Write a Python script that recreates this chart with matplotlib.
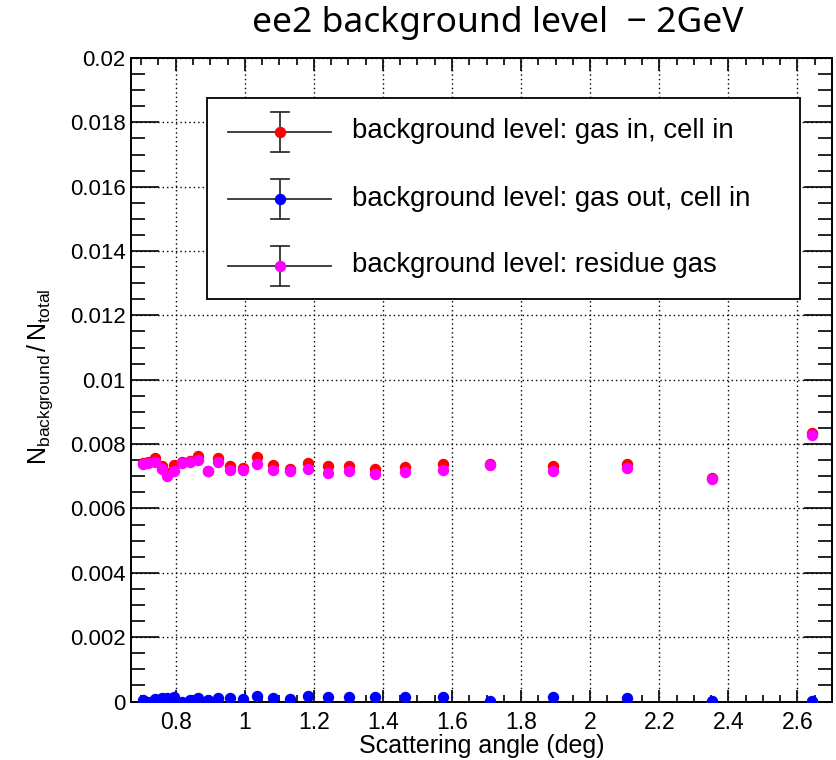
import matplotlib
matplotlib.use("Agg")
import matplotlib.pyplot as plt
from matplotlib.ticker import MultipleLocator, FuncFormatter
from matplotlib.patches import Rectangle
from matplotlib.lines import Line2D

# ---------------- data ----------------
angle = [0.706, 0.721, 0.740, 0.760, 0.776, 0.795, 0.817, 0.841, 0.865, 0.894,
         0.923, 0.957, 0.996, 1.035, 1.083, 1.131, 1.184, 1.242, 1.303, 1.377,
         1.464, 1.573, 1.710, 1.893, 2.106, 2.352, 2.642]
gas_in_cell_in = [0.00741, 0.00745, 0.00757, 0.00731, 0.00709, 0.00736, 0.00743, 0.00747,
                  0.00762, 0.00717, 0.00757, 0.00732, 0.00726, 0.00760, 0.00734, 0.00724,
                  0.00742, 0.00731, 0.00731, 0.00722, 0.00729, 0.00739, 0.00739, 0.00731,
                  0.00739, 0.00696, 0.00835]
gas_out_cell_in = [0.00005, 0.00000, 0.00008, 0.00010, 0.00010, 0.00015, 0.00000, 0.00005,
                   0.00012, 0.00005, 0.00012, 0.00012, 0.00007, 0.00018, 0.00010, 0.00007,
                   0.00017, 0.00015, 0.00015, 0.00013, 0.00015, 0.00015, 0.00003, 0.00013,
                   0.00010, 0.00003, 0.00003]
residue_gas = [0.00737, 0.00740, 0.00744, 0.00722, 0.00701, 0.00716, 0.00741, 0.00744,
               0.00750, 0.00715, 0.00743, 0.00719, 0.00719, 0.00737, 0.00721, 0.00716,
               0.00724, 0.00711, 0.00715, 0.00706, 0.00712, 0.00721, 0.00734, 0.00715,
               0.00726, 0.00691, 0.00827]
series_labels = ["background level: gas in, cell in",
                 "background level: gas out, cell in",
                 "background level: residue gas"]
series_colors = ["#ff0000", "#0000ff", "#ff00ff"]
title_text = "ee2 background level  \u2212 2GeV"
x_title = "Scattering angle (deg)"

# ---------------- figure ----------------
W, H = 836, 760
fig = plt.figure(figsize=(W / 100, H / 100), dpi=100)
fig.patch.set_facecolor("white")
base_font = "Liberation Sans"
plt.rcParams["font.family"] = [base_font, "DejaVu Sans"]
plt.rcParams["mathtext.fontset"] = "custom"
plt.rcParams["mathtext.rm"] = base_font
plt.rcParams["mathtext.it"] = base_font + ":italic"

L, R, T, B = 131, 832, 58, 701.5
ax = fig.add_axes([L / W, 1 - B / H, (R - L) / W, (B - T) / H])
ax.set_xlim(0.6706, 2.700)
ax.set_ylim(0.0, 0.02)

for yv, col in zip([gas_in_cell_in, gas_out_cell_in, residue_gas], series_colors):
    ax.plot(angle, yv, linestyle="none", marker="o", markersize=7.2,
            markerfacecolor=col, markeredgecolor=col, zorder=3, clip_on=True)

ax.xaxis.set_major_locator(MultipleLocator(0.2))
ax.xaxis.set_minor_locator(MultipleLocator(0.05))
ax.yaxis.set_major_locator(MultipleLocator(0.002))
ax.yaxis.set_minor_locator(MultipleLocator(0.0005))
fmt = FuncFormatter(lambda v, p: ("%g" % round(v, 6)))
ax.xaxis.set_major_formatter(fmt)
ax.yaxis.set_major_formatter(fmt)

ax.tick_params(axis="both", which="both", direction="in", colors="black",
               labelsize=16.5, width=1.2)
ax.tick_params(axis="y", which="both", labelsize=16)
ax.tick_params(axis="x", which="major", length=9, pad=7, top=True)
ax.tick_params(axis="x", which="minor", length=5, top=True)
ax.tick_params(axis="y", which="major", length=20, pad=4, right=True)
ax.tick_params(axis="y", which="minor", length=10, right=True)

ax.grid(True, which="major", color="black", linestyle=(0, (1, 2.2)), linewidth=1.0)
ax.set_axisbelow(True)
for s in ax.spines.values():
    s.set_linewidth(1.4)
    s.set_color("black")

# axis titles
fig.text(482 / W, 1 - 746 / H, x_title, ha="center", va="center", fontsize=18)
fig.text(40 / W, 1 - 377 / H, r"$\mathregular{N_{background}\,/\,N_{total}}$",
         ha="center", va="center", rotation=90, fontsize=18)

# title
fig.text(498 / W, 1 - 23 / H, title_text, ha="center", va="center",
         fontsize=25.5, family=["Noto Sans", "DejaVu Sans"])

# ---------------- legend (drawn in pixel overlay) ----------------
ov = fig.add_axes([0, 0, 1, 1], zorder=10)
ov.set_xlim(0, W)
ov.set_ylim(H, 0)
ov.axis("off")
ov.patch.set_alpha(0)
ov.add_patch(Rectangle((207, 98), 800 - 207, 299 - 98, facecolor="white",
                       edgecolor="black", linewidth=1.3))
rows = [131.5, 199, 265.5]
for yy, col, lab in zip(rows, series_colors, series_labels):
    ov.add_line(Line2D([228, 331], [yy, yy], color="#333333", linewidth=1.3))
    ov.add_line(Line2D([280, 280], [yy - 20, yy + 20], color="#333333", linewidth=1.3))
    for cy in (yy - 20, yy + 20):
        ov.add_line(Line2D([271, 289], [cy, cy], color="#333333", linewidth=1.3))
    ov.plot([280], [yy], marker="o", markersize=7.2, color=col, linestyle="none")
    ov.text(352, yy, lab, ha="left", va="center", fontsize=19.8)

fig.savefig("out.png", dpi=100, facecolor="white")
